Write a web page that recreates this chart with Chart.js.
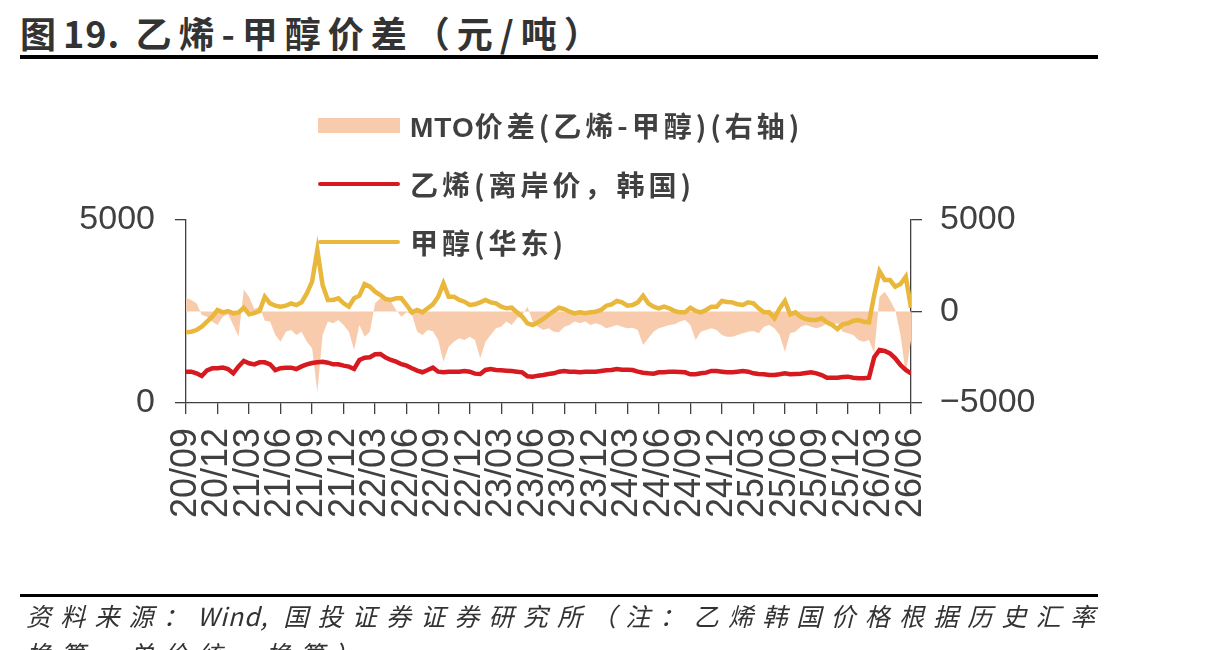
<!DOCTYPE html>
<html>
<head>
<meta charset="utf-8">
<script src="https://cdn.jsdelivr.net/npm/chart.js@4.4.1/dist/chart.umd.min.js"></script>
<style>
  body{margin:0;width:1213px;height:650px;overflow:hidden;background:#fff;position:relative;font-family:"Noto Sans CJK SC",sans-serif;color:#404040}
  #title{position:absolute;left:20px;top:6px;font-size:36px;font-weight:700;letter-spacing:7px;color:#333;white-space:nowrap}
  #title span{letter-spacing:1px}
  .rule{position:absolute;left:20px;width:1078px;height:4px;background:#000}
  canvas{position:absolute;left:0;top:0}
  .lg{position:absolute;left:318px;height:36px;display:flex;align-items:center;font-size:28px;font-weight:700;letter-spacing:4px;white-space:nowrap;z-index:2}
  .lg i{display:inline-block;width:82px;margin-right:10px}
  #foot{position:absolute;left:26px;top:596px;font-size:25px;font-style:italic;letter-spacing:9.2px;color:#333;white-space:nowrap;line-height:38px}
  #foot span{letter-spacing:1px}
</style>
</head>
<body>
<div id="title">图<span>19.</span> 乙烯-甲醇价差（元/吨）</div>
<div class="rule" style="top:55px"></div>
<canvas id="chart" width="1213" height="650"></canvas>
<div class="lg" style="top:107px"><i style="height:15px;background:#F8CBAD"></i><span><b style="font-family:'Liberation Sans';letter-spacing:1px">MTO</b>价差(乙烯-甲醇)(右轴)</span></div>
<div class="lg" style="top:166px"><i style="height:4px;background:#D71920;border-radius:2px"></i><span>乙烯(离岸价，韩国)</span></div>
<div class="lg" style="top:224px"><i style="height:4px;background:#E8B73B;border-radius:2px"></i><span>甲醇(华东)</span></div>
<div class="rule" style="top:594px;height:3px"></div>
<div id="foot">资料来源：<span>Wind,</span> 国投证券证券研究所（注：乙烯韩国价格根据历史汇率<br>换算，单价统一换算）</div>
<script>
// half-month samples, 2020/09 .. 2026/06
const tickLabels = ["20/09","20/12","21/03","21/06","21/09","21/12","22/03","22/06","22/09","22/12","23/03","23/06",
  "23/09","23/12","24/03","24/06","24/09","24/12","25/03","25/06","25/09","25/12","26/03","26/06"];

const methanol = [1931,1948,1994,2085,2221,2358,2541,2477,2513,2450,
  2477,2604,2423,2459,2513,2904,2723,2659,2631,2659,
  2723,2677,2750,2996,3314,4180,3224,2814,2814,2860,
  2723,2631,2860,2932,3250,3178,3041,2950,2841,2814,
  2860,2860,2677,2477,2541,2477,2587,2696,2904,3270,
  2904,2904,2814,2768,2677,2696,2750,2814,2750,2723,
  2631,2587,2604,2477,2358,2177,2131,2204,2295,2404,
  2513,2604,2568,2495,2450,2477,2450,2477,2495,2541,
  2659,2696,2787,2750,2659,2677,2750,2932,2723,2631,
  2587,2631,2587,2513,2477,2477,2604,2513,2477,2541,
  2631,2631,2787,2760,2750,2696,2677,2750,2723,2587,
  2477,2477,2314,2587,2787,2423,2477,2358,2295,2268,
  2268,2314,2204,2131,2022,2150,2177,2240,2268,2221,
  2204,2950,3600,3360,3360,3178,3250,3451,2600];

const ethylene = [856,856,811,740,893,947,947,966,929,811,
  1000,1147,1084,1056,1111,1111,1056,900,950,966,
  966,929,1000,1056,1093,1111,1129,1102,1056,1056,
  1020,993,930,1175,1239,1250,1330,1340,1239,1175,
  1129,1060,1020,950,884,840,900,966,856,840,
  856,856,856,875,856,802,793,902,929,902,
  893,884,875,856,838,730,720,747,765,790,
  811,856,875,856,856,838,856,856,856,875,
  893,902,929,911,911,902,856,829,811,802,
  838,838,856,856,847,838,784,784,811,829,
  875,875,856,838,838,856,875,856,811,793,
  784,765,765,784,811,784,793,802,820,838,
  811,765,692,692,692,711,720,692,674,674,
  692,1250,1448,1421,1357,1220,1038,902,811];

const spread = [755,628,446,-191,-282,-555,-737,-282,-155,-737,
  -1374,1200,800,137,264,-500,-546,-1283,-1648,-1101,
  -1010,-1283,-1101,-1648,-2011,-4400,-1283,-546,-646,-464,
  -737,-1101,-2102,-737,-1374,-1101,446,719,755,537,
  82,-282,-46,-155,-1101,-1283,-1010,-1083,-1556,-2740,
  -1920,-1648,-1465,-1556,-1374,-1556,-2557,-1648,-1283,-919,
  -828,-546,-737,-373,-191,264,-546,-828,-1010,-919,
  -1101,-1137,-828,-737,-546,-646,-546,-737,-646,-737,
  -919,-828,-737,-828,-919,-883,-1010,-1829,-1465,-1101,
  -919,-828,-737,-700,-546,-464,-737,-1556,-1101,-1010,
  -919,-1010,-1283,-1374,-1374,-1283,-1192,-1101,-1065,-1192,
  -828,-737,-919,-1283,-2193,-1192,-1101,-828,-737,-828,
  -919,-828,-646,-737,-646,-1101,-1192,-1283,-1556,-1648,
  -1556,-2266,810,1083,628,82,-1283,-3376,-1600];

const toPoints = arr => arr.map((v, i) => ({x: i / 2, y: v}));
const axisColor = "#404040";

new Chart(document.getElementById("chart"), {
  type: "line",
  data: {
    datasets: [
      {label: "甲醇(华东)", data: toPoints(methanol), yAxisID: "y", borderColor: "#E8B73B", borderWidth: 4.5, pointRadius: 0, tension: 0, order: 1},
      {label: "乙烯(离岸价，韩国)", data: toPoints(ethylene), yAxisID: "y", borderColor: "#D71920", borderWidth: 4.5, pointRadius: 0, tension: 0, order: 2},
      {label: "MTO价差(乙烯-甲醇)(右轴)", data: toPoints(spread), yAxisID: "y1", borderWidth: 0, borderColor: "rgba(0,0,0,0)",
       backgroundColor: "#F8CBAD", fill: "origin", pointRadius: 0, tension: 0, order: 3}
    ]
  },
  options: {
    responsive: false,
    animation: false,
    layout: {padding: {top: 220, left: 0, right: 0, bottom: 0}},
    plugins: {legend: {display: false}, tooltip: {enabled: false}},
    scales: {
      x: {
        type: "linear", min: 0, max: 69,
        grid: {drawOnChartArea: false, tickLength: 11, color: axisColor, lineWidth: 1.3},
        border: {color: axisColor, width: 1.3},
        ticks: {stepSize: 3, autoSkip: false, minRotation: 90, maxRotation: 90, padding: 14, color: axisColor,
                font: {family: "Liberation Sans", size: 36},
                callback: v => tickLabels[v / 3] ?? ""},
        afterFit: s => { s.height = 247; }
      },
      y: {
        position: "left", min: 0, max: 5000,
        grid: {drawOnChartArea: false, tickLength: 11, color: axisColor, lineWidth: 1.3},
        border: {color: axisColor, width: 1.3},
        ticks: {stepSize: 5000, padding: 20, color: axisColor, font: {family: "Liberation Sans", size: 34},
                callback: v => String(v)},
        afterFit: s => { s.width = 186; }
      },
      y1: {
        position: "right", min: -5000, max: 5000,
        grid: {drawOnChartArea: false, tickLength: 11, color: axisColor, lineWidth: 1.3},
        border: {color: axisColor, width: 1.3},
        ticks: {stepSize: 5000, padding: 18, color: axisColor, font: {family: "Liberation Sans", size: 34},
                callback: v => v < 0 ? "\u2212" + Math.abs(v) : String(v)},
        afterFit: s => { s.width = 302; }
      }
    }
  }
});
</script>
</body>
</html>
